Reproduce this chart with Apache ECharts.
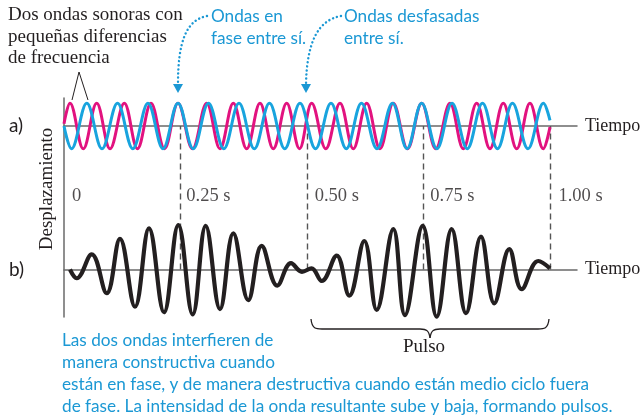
<!DOCTYPE html>
<html><head><meta charset="utf-8">
<script src="https://cdn.jsdelivr.net/npm/echarts@6/dist/echarts.min.js"></script>
<style>html,body{margin:0;padding:0;background:#fff}#c{width:641px;height:418px}</style>
</head><body><div id="c"></div>
<script>
// Time (s) and displacement of the two waves (extrema)
const magentaT = [0, 0.0123, 0.0397, 0.0673, 0.0947, 0.1241, 0.1512, 0.1790, 0.2068, 0.2346, 0.2644, 0.2936, 0.3210, 0.3484, 0.3759, 0.4033, 0.4307, 0.4582, 0.4846, 0.5097, 0.5387, 0.5679, 0.5953, 0.6228, 0.6502, 0.6776, 0.7068, 0.7360, 0.7650, 0.7942, 0.8216, 0.8492, 0.8765, 0.9039, 0.9315, 0.9588, 0.9862, 1.0];
const magentaV = [0.1, 1, -1, 1, -1, 1, -1, 1, -1, 1, -1, 1, -1, 1, -1, 1, -1, 1, -1, 1, -1, 1, -1, 1, -1, 1, -1, 1, -1, 1, -1, 1, -1, 1, -1, 1, -1, -0.05];
const cyanT = [0, 0.0154, 0.0469, 0.0782, 0.1101, 0.1416, 0.1728, 0.2037, 0.2346, 0.2660, 0.2973, 0.3288, 0.3601, 0.3916, 0.4228, 0.4543, 0.4856, 0.5175, 0.5494, 0.5809, 0.6121, 0.6440, 0.6759, 0.7058, 0.7360, 0.7673, 0.7984, 0.8298, 0.8611, 0.8920, 0.9228, 0.9547, 0.9866, 1.0];
const cyanV = [0, -1, 1, -1, 1, -1, 1, -1, 1, -1, 1, -1, 1, -1, 1, -1, 1, -1, 1, -1, 1, -1, 1, -1, 1, -1, 1, -1, 1, -1, 1, -1, 1, 0.25];
// Resultant wave (b)
const sumT = [0.0123, 0.0261, 0.0570, 0.0879, 0.1152, 0.1461, 0.1749, 0.2058, 0.2352, 0.2648, 0.2916, 0.3210, 0.3484, 0.3792, 0.4068, 0.4389, 0.4671, 0.4897, 0.5093, 0.5302, 0.5611, 0.5870, 0.6179, 0.6434, 0.6776, 0.7016, 0.7381, 0.7669, 0.7977, 0.8272, 0.8580, 0.8854, 0.9163, 0.9418, 0.9759, 1.0];
const sumV = [0, -0.38, 0.66, -1.03, 1.33, -1.62, 1.79, -1.86, 1.93, -1.95, 1.90, -1.72, 1.57, -1.33, 1.03, -0.70, 0.28, -0.10, 0.05, -0.50, 0.60, -1.14, 1.24, -1.76, 1.76, -1.98, 1.90, -2.05, 1.76, -1.90, 1.43, -1.47, 0.89, -0.85, 0.37, 0.05];
// Time markers
const tickT = [0, 0.2352, 0.4994, 0.7372, 1.001];
const tickLabels = ['0', '0.25 s', '0.50 s', '0.75 s', '1.00 s'];
const markerT = [0.2352, 0.4994, 0.7372, 1.001];

const LABEL_Y = 3.17;
const pair = (T, V) => T.map((t, i) => [t, V[i]]);

const MAG = '#e2127f', CYAN = '#18a4de', TXTC = '#1b98d4', INK = '#231f20', AX = '#6a6a6a';
const SERIF = '"Liberation Serif", "DejaVu Serif", serif';
const SANS = 'Lato, "Liberation Sans", sans-serif';

const chart = echarts.init(document.getElementById('c'), null, {renderer: 'canvas'});
const xAxisBase = {
  type: 'value', min: 0, max: 1.0556,
  axisLine: {show: true, onZero: true, lineStyle: {color: AX, width: 1.5}},
  axisTick: {show: false}, axisLabel: {show: false}, splitLine: {show: false},
  name: 'Tiempo', nameLocation: 'end', nameGap: 8,
  nameTextStyle: {fontFamily: SERIF, fontSize: 18, color: INK, verticalAlign: 'middle'}
};
const sText = (x, y, text, extra) => Object.assign({type: 'text', x: x, y: y,
  style: Object.assign({text: text, font: '19px ' + SERIF, fill: INK, textVerticalAlign: 'middle'}, extra || {})});
const cText = (x, y, text) => ({type: 'text', x: x, y: y,
  style: {text: text, font: '17.2px ' + SANS, fill: TXTC, textVerticalAlign: 'middle'}});
const stroke = {stroke: INK, lineWidth: 1.3, fill: null};

const option = {
  backgroundColor: '#fff',
  animation: false,
  grid: [
    {left: 64, right: 64, top: 98, height: 219, outerBoundsMode: 'none', containLabel: false},
    {left: 64, right: 64, top: 126, height: 143.5, outerBoundsMode: 'none', containLabel: false}
  ],
  xAxis: [Object.assign({gridIndex: 0}, xAxisBase), Object.assign({gridIndex: 1}, xAxisBase)],
  yAxis: [
    {gridIndex: 0, type: 'value', min: -8.414, max: 1.233,
     axisLine: {show: true, onZero: true, lineStyle: {color: AX, width: 1.5}},
     axisTick: {show: false}, axisLabel: {show: false}, splitLine: {show: false}},
    {gridIndex: 1, type: 'value', min: 0, max: 6.24, show: false}
  ],
  series: [
    {type: 'line', xAxisIndex: 0, yAxisIndex: 0, data: pair(magentaT, magentaV), smooth: 0.38,
     showSymbol: false, z: 10, lineStyle: {color: MAG, width: 3}},
    {type: 'line', xAxisIndex: 0, yAxisIndex: 0, data: pair(cyanT, cyanV), smooth: 0.38,
     showSymbol: false, z: 11, lineStyle: {color: CYAN, width: 3}},
    {type: 'scatter', xAxisIndex: 1, yAxisIndex: 1, symbolSize: 0, z: 3,
     data: tickT.map((t, i) => ({value: [t, LABEL_Y], name: tickLabels[i]})),
     label: {show: true, position: 'right', distance: 8, formatter: p => p.name,
       fontFamily: SERIF, fontSize: 18.5, color: INK},
     markLine: {silent: true, symbol: ['none', 'none'], label: {show: false},
       lineStyle: {color: '#555', type: [6, 4], width: 1.4},
       data: markerT.map(t => ({xAxis: t}))}},
    {type: 'line', xAxisIndex: 1, yAxisIndex: 1, data: pair(sumT, sumV), smooth: 0.4,
     showSymbol: false, clip: false, z: 12, lineStyle: {color: INK, width: 4.2}}
  ],
  graphic: [
    sText(8, 15, 'Dos ondas sonoras con'),
    sText(8, 37, 'pequeñas diferencias'),
    sText(8, 58, 'de frecuencia'),
    {type: 'polyline', shape: {points: [[72, 100], [79, 72], [88, 100]]}, style: {stroke: INK, lineWidth: 1, fill: null}, z: 20},
    cText(211, 16, 'Ondas en'),
    cText(211, 38, 'fase entre sí.'),
    cText(344, 16, 'Ondas desfasadas'),
    cText(344, 38, 'entre sí.'),
    {type: 'bezierCurve', shape: {x1: 207, y1: 16, cpx1: 186, cpy1: 20, cpx2: 178, cpy2: 42, x2: 178, y2: 84},
     style: {stroke: TXTC, lineWidth: 2.4, lineDash: [0.1, 4], lineCap: 'round', fill: null}},
    {type: 'polygon', shape: {points: [[173, 84], [183, 84], [178, 93]]}, style: {fill: TXTC}},
    {type: 'bezierCurve', shape: {x1: 341, y1: 16, cpx1: 318, cpy1: 20, cpx2: 307, cpy2: 42, x2: 306, y2: 84},
     style: {stroke: TXTC, lineWidth: 2.4, lineDash: [0.1, 4], lineCap: 'round', fill: null}},
    {type: 'polygon', shape: {points: [[301, 84], [311, 84], [306, 93]]}, style: {fill: TXTC}},
    {type: 'text', x: 9, y: 126, style: {text: 'a)', font: '19px ' + SANS, fill: INK, textVerticalAlign: 'middle'}},
    {type: 'text', x: 9, y: 270, style: {text: 'b)', font: '19px ' + SANS, fill: INK, textVerticalAlign: 'middle'}},
    sText(47, 189, 'Desplazamiento', {textAlign: 'center'}),
    // bracket
    {type: 'bezierCurve', shape: {x1: 311, y1: 319, cpx1: 312, cpy1: 329, cpx2: 316, cpy2: 329, x2: 322, y2: 329}, style: stroke},
    {type: 'line', shape: {x1: 322, y1: 329, x2: 420, y2: 329}, style: stroke},
    {type: 'bezierCurve', shape: {x1: 420, y1: 329, cpx1: 427, cpy1: 329, cpx2: 429, cpy2: 331, x2: 430, y2: 338}, style: stroke},
    {type: 'bezierCurve', shape: {x1: 430, y1: 338, cpx1: 431, cpy1: 331, cpx2: 433, cpy2: 329, x2: 440, y2: 329}, style: stroke},
    {type: 'line', shape: {x1: 440, y1: 329, x2: 538, y2: 329}, style: stroke},
    {type: 'bezierCurve', shape: {x1: 538, y1: 329, cpx1: 544, cpy1: 329, cpx2: 548, cpy2: 329, x2: 549, y2: 319}, style: stroke},
    sText(424, 347, 'Pulso', {textAlign: 'center'}),
    cText(62, 340, 'Las dos ondas interfieren de'),
    cText(62, 362, 'manera constructiva cuando'),
    cText(62, 384, 'están en fase, y de manera destructiva cuando están medio ciclo fuera'),
    cText(62, 406, 'de fase. La intensidad de la onda resultante sube y baja, formando pulsos.')
  ]
};
option.graphic[14].rotation = Math.PI / 2;
chart.setOption(option);
</script>
</body></html>
